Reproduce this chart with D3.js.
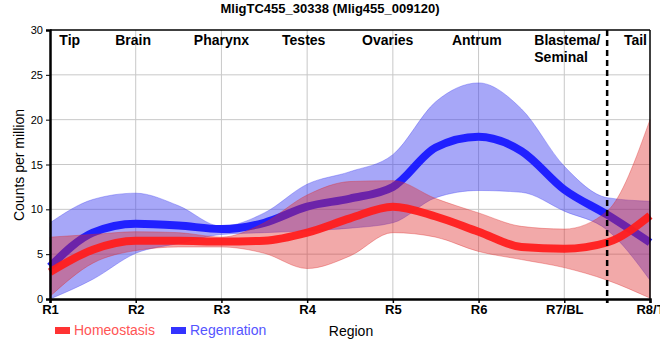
<!DOCTYPE html>
<html>
<head>
<meta charset="utf-8">
<script src="https://cdn.jsdelivr.net/npm/d3@7"></script>
<style>
  html, body { margin: 0; padding: 0; background: #fff; }
  svg { display: block; font-family: "Liberation Sans", Arial, sans-serif; }
</style>
</head>
<body>
<svg id="chart" width="660" height="360"></svg>
<script>
// ---------- data ----------
const title = "MligTC455_30338 (Mlig455_009120)";
const regionTicks = ["R1", "R2", "R3", "R4", "R5", "R6", "R7/BL", "R8/T"];
const regionNames = ["Tip", "Brain", "Pharynx", "Testes", "Ovaries", "Antrum", "Blastema/\nSeminal", "Tail"];
const regionNamePos = [0.23, 0.97, 2, 2.96, 3.94, 4.98, 6, 6.83];
const yTicks = [0, 5, 10, 15, 20, 25, 30];
// sample positions along the region axis (region index, R1 = 0)
const samplePos = [0, 0.5, 1, 1.5, 2, 2.5, 3, 3.5, 4, 4.5, 5, 5.5, 6, 6.5, 7];

const homeoMean  = [3.0, 5.5, 6.5, 6.5, 6.4, 6.5, 7.4, 9.0, 10.3, 9.2, 7.5, 5.8, 5.6, 6.3, 9.3];
const homeoUpper = [6.9, 7.2, 7.5, 7.4, 6.9, 8.5, 11.6, 13.1, 13.2, 11.2, 9.6, 8.1, 7.8, 9.8, 20.0];
const homeoLower = [0.3, 4.0, 5.4, 5.8, 5.8, 5.1, 3.4, 4.8, 7.4, 6.9, 5.3, 4.4, 3.5, 2.1, 0.1];

const regenMean  = [3.6, 7.4, 8.4, 8.2, 7.8, 8.5, 10.3, 11.2, 12.5, 16.9, 18.1, 16.5, 12.2, 9.4, 6.3];
const regenUpper = [8.5, 11.1, 11.8, 10.4, 8.1, 9.6, 12.8, 14.2, 16.1, 22.0, 24.1, 21.2, 14.8, 11.3, 10.9];
const regenLower = [0.0, 2.2, 5.1, 6.2, 7.2, 7.4, 7.6, 7.9, 8.5, 11.3, 12.1, 11.9, 9.8, 7.7, 2.1];

const seriesNames = ["Homeostasis", "Regenration"];
const dividerPos = 6.5;

// ---------- layout ----------
const svg = d3.select("#chart");
const pLeft = 50, pRight = 650, pTop = 30, pBottom = 299;

const x = d3.scaleLinear().domain([0, 7]).range([pLeft, pRight]);
const y = d3.scaleLinear().domain([0, 30]).range([pBottom, pTop]);

// grid
const grid = svg.append("g");
grid.selectAll("line.h").data(yTicks.filter(d => d > 0 && d < 30)).enter()
  .append("line").attr("x1", pLeft).attr("x2", pRight)
  .attr("y1", d => y(d)).attr("y2", d => y(d))
  .attr("stroke", "#c8c8c8").attr("stroke-width", 1);
grid.selectAll("line.v").data(d3.range(1, 7)).enter()
  .append("line").attr("y1", pTop).attr("y2", pBottom)
  .attr("x1", d => x(d)).attr("x2", d => x(d))
  .attr("stroke", "#c8c8c8").attr("stroke-width", 1);

function pts(vals) { return vals.map((v, i) => [samplePos[i], v]); }
function bandPts(lo, hi) { return lo.map((v, i) => ({p: samplePos[i], lo: v, hi: hi[i]})); }

const area = d3.area().curve(d3.curveMonotoneX)
  .x(d => x(d.p)).y0(d => y(d.lo)).y1(d => y(d.hi));
const line = d3.line().curve(d3.curveMonotoneX)
  .x(d => x(d[0])).y(d => y(d[1]));

// Regeneration
svg.append("path").datum(bandPts(regenLower, regenUpper)).attr("d", area)
  .attr("fill", "rgba(60,60,240,0.45)")
  .attr("stroke", "rgba(60,60,240,0.35)").attr("stroke-width", 1);
svg.append("path").datum(pts(regenMean)).attr("d", line)
  .attr("fill", "none").attr("stroke", "#2020ff").attr("stroke-width", 8);

// Homeostasis
svg.append("path").datum(bandPts(homeoLower, homeoUpper)).attr("d", area)
  .attr("fill", "rgba(222,40,40,0.4)")
  .attr("stroke", "rgba(222,40,40,0.35)").attr("stroke-width", 1);
svg.append("path").datum(pts(homeoMean)).attr("d", line)
  .attr("fill", "none").attr("stroke", "#ff1e1e").attr("stroke-width", 8)
  .attr("stroke-opacity", 0.95);

// divider
svg.append("line").attr("x1", x(dividerPos)).attr("x2", x(dividerPos))
  .attr("y1", pTop).attr("y2", pBottom + 4)
  .attr("stroke", "#000").attr("stroke-width", 2.5).attr("stroke-dasharray", "6,4");

// frame
svg.append("line").attr("x1", pLeft).attr("x2", pRight).attr("y1", pTop).attr("y2", pTop)
  .attr("stroke", "#000").attr("stroke-width", 1.5);
svg.append("line").attr("x1", pRight).attr("x2", pRight).attr("y1", pTop).attr("y2", pBottom)
  .attr("stroke", "#000").attr("stroke-width", 1.5);

// axes
const yAxis = svg.append("g").attr("transform", `translate(${pLeft},0)`)
  .call(d3.axisLeft(y).tickValues(yTicks).tickSize(4).tickFormat(d3.format("d")));
yAxis.select(".domain").attr("stroke-width", 2.5);
yAxis.selectAll("text").attr("font-size", 11).attr("fill", "#000")
  .attr("font-family", "Liberation Sans, Arial, sans-serif");

const xAxis = svg.append("g").attr("transform", `translate(0,${pBottom})`)
  .call(d3.axisBottom(x).tickValues(d3.range(0, 8).concat([dividerPos])).tickSize(4)
    .tickFormat(d => Number.isInteger(d) ? regionTicks[d] : ""));
xAxis.select(".domain").attr("stroke-width", 2.5);
xAxis.selectAll(".tick line").attr("stroke-width", 1.5);
xAxis.selectAll("text").attr("font-size", 13).attr("font-weight", "bold").attr("fill", "#000")
  .attr("font-family", "Liberation Sans, Arial, sans-serif").attr("dy", "0.6em");

// region names
regionNames.forEach((name, i) => {
  const lines = name.split("\n");
  const t = svg.append("text")
    .attr("font-size", 14).attr("font-weight", "bold").attr("fill", "#000")
    .attr("text-anchor", lines.length > 1 ? "start" : "middle");
  const xp = lines.length > 1 ? x(regionNamePos[i]) - 30 : x(regionNamePos[i]);
  lines.forEach((l, k) => {
    t.append("tspan").attr("x", xp).attr("y", 45 + k * 17).text(l);
  });
});

// title
svg.append("text").attr("x", 330).attr("y", 13).attr("text-anchor", "middle")
  .attr("font-size", 13).attr("font-weight", "bold").text(title);

// y label
svg.append("text").attr("transform", `translate(24,165) rotate(-90)`)
  .attr("text-anchor", "middle").attr("font-size", 14).text("Counts per million");

// x label
svg.append("text").attr("x", 351).attr("y", 336).attr("text-anchor", "middle")
  .attr("font-size", 14).text("Region");

// legend
const legendColors = ["#ff3333", "#3333ff"];
const legendText = ["#ff5555", "#5555ff"];
const legendX = [55, 171];
seriesNames.forEach((s, i) => {
  svg.append("rect").attr("x", legendX[i]).attr("y", 327).attr("width", 15).attr("height", 7)
    .attr("fill", legendColors[i]);
  svg.append("text").attr("x", legendX[i] + 19).attr("y", 335)
    .attr("font-size", 14).attr("fill", legendText[i]).text(s);
});
</script>
</body>
</html>
